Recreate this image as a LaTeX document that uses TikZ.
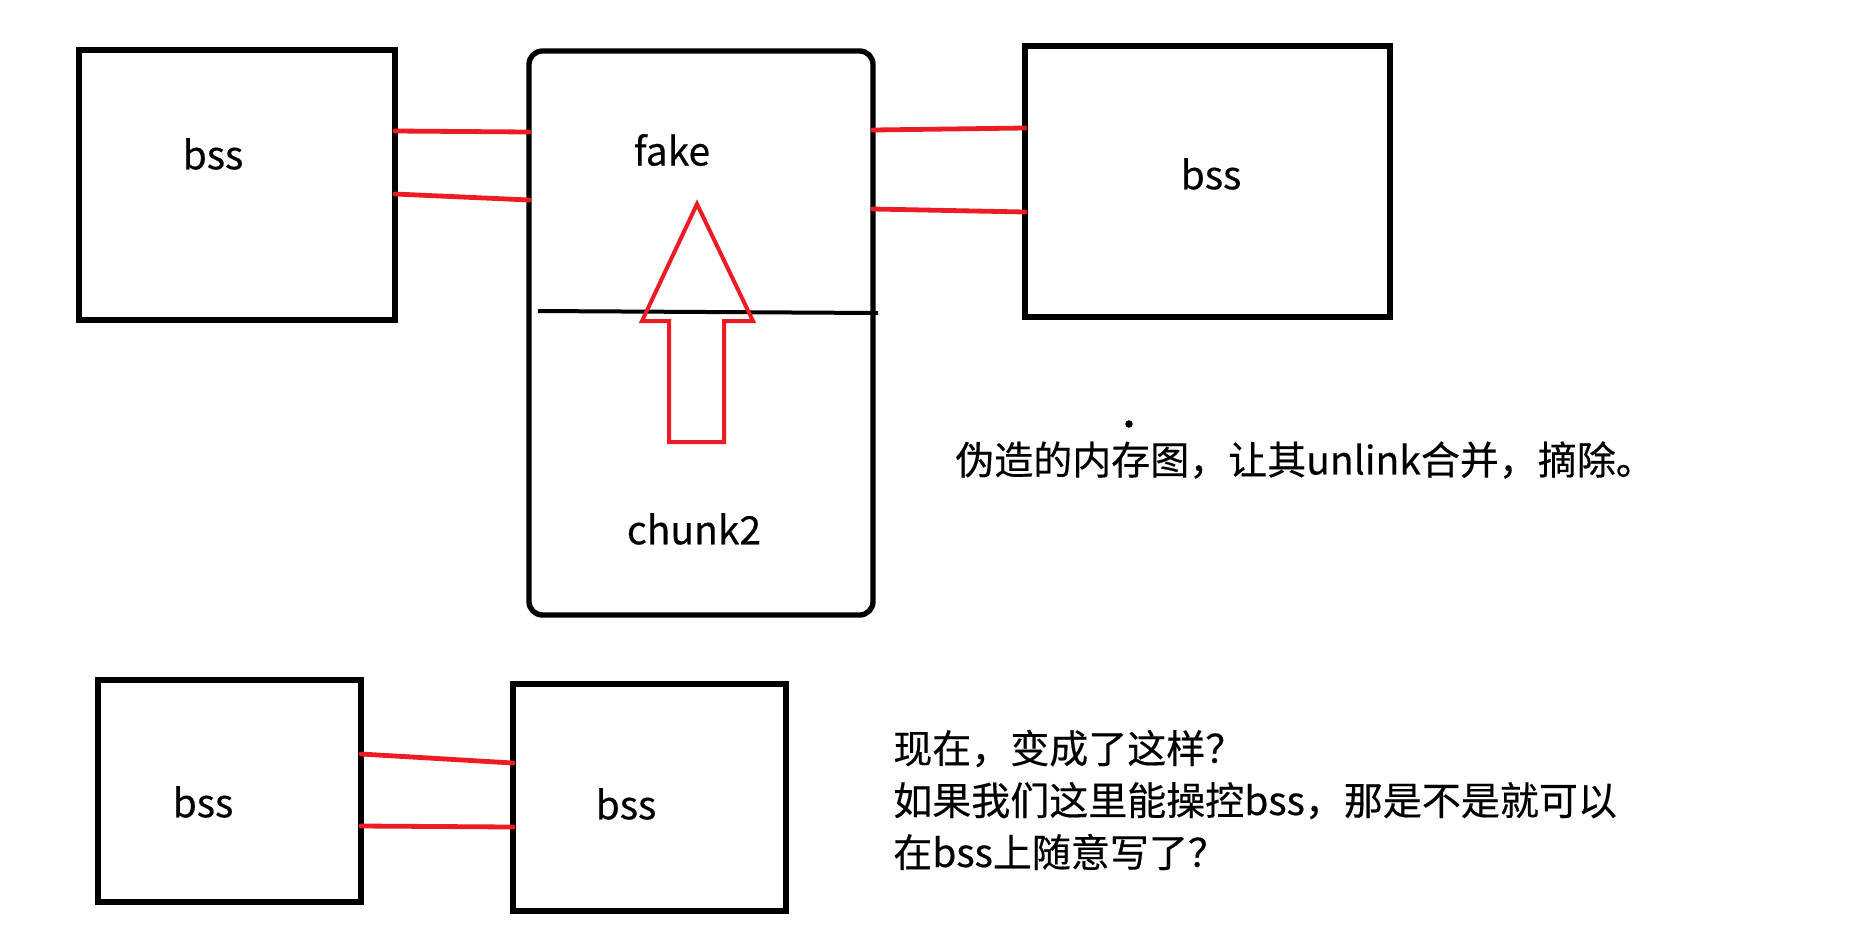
\documentclass[tikz,border=0pt]{standalone}
\usepackage{fontspec}
\setmainfont{Noto Sans CJK SC}[FakeBold=0.4]
\definecolor{pred}{HTML}{ED1C24}
\begin{document}
\begin{tikzpicture}[x=0.75pt,y=-0.75pt,
  boxnode/.style={draw=black,line width=4pt,inner sep=0pt,outer sep=0pt},
  redline/.style={draw=pred,line width=3.6pt,line cap=round},
  lbl/.style={inner sep=0pt,font=\fontsize{29.25pt}{39pt}\selectfont},
  txt/.style={inner sep=0pt,align=left,font=\fontsize{29.25pt}{39pt}\selectfont}]
\useasboundingbox (0,0) rectangle (1853,951);
\fill[white] (0,0) rectangle (1853,951);
% boxes
\node[boxnode,minimum width=237pt,minimum height=202.5pt] (A) at (237,185) {};
\node[boxnode,rounded corners=10pt,minimum width=258pt,minimum height=423pt] (F) at (701,333) {};
\node[boxnode,minimum width=273.75pt,minimum height=203.25pt] (B) at (1207.5,181.5) {};
\node[boxnode,minimum width=197.25pt,minimum height=166.5pt] (C) at (229.5,791) {};
\node[boxnode,minimum width=204.75pt,minimum height=170.25pt] (D) at (649.5,797.5) {};
% labels
\node[lbl] (la) at (213,154) {bss};
\node[lbl] (lf) at (672,150) {fake};
\node[lbl] (lc) at (694,529) {chunk2};
\node[lbl] (lb) at (1211,174) {bss};
\node[lbl] (lcc) at (203,802) {bss};
\node[lbl] (ld) at (626,804) {bss};
% divider
\coordinate (dv1) at (538,311);
\coordinate (dv2) at (878,313);
\draw[black,line width=3pt] (dv1) -- (dv2);
% red arrow
\draw[pred,line width=3pt,line join=miter] (697,204) -- (753,321) -- (724,321) -- (724,442) -- (669,442) -- (669,321) -- (642,321) -- cycle;
% red connectors
\draw[redline] (A.east |- 0,131) -- (F.west |- 0,132);
\draw[redline] (A.east |- 0,194) -- (F.west |- 0,200);
\draw[redline] (F.east |- 0,130) -- (B.west |- 0,128);
\draw[redline] (F.east |- 0,209) -- (B.west |- 0,212);
\draw[redline] (C.east |- 0,754) -- (D.west |- 0,763);
\draw[redline] (C.east |- 0,826) -- (D.west |- 0,827);
% stray dot
\fill[black] (1129,424) circle (2.8pt);
% texts
\node[txt,anchor=west] (t1) at (955,460) {伪造的内存图，让其unlink合并，摘除。};
\node[txt,anchor=west] (t2) at (893,800) {现在，变成了这样？\\如果我们这里能操控bss，那是不是就可以\\在bss上随意写了？};
\end{tikzpicture}
\end{document}
